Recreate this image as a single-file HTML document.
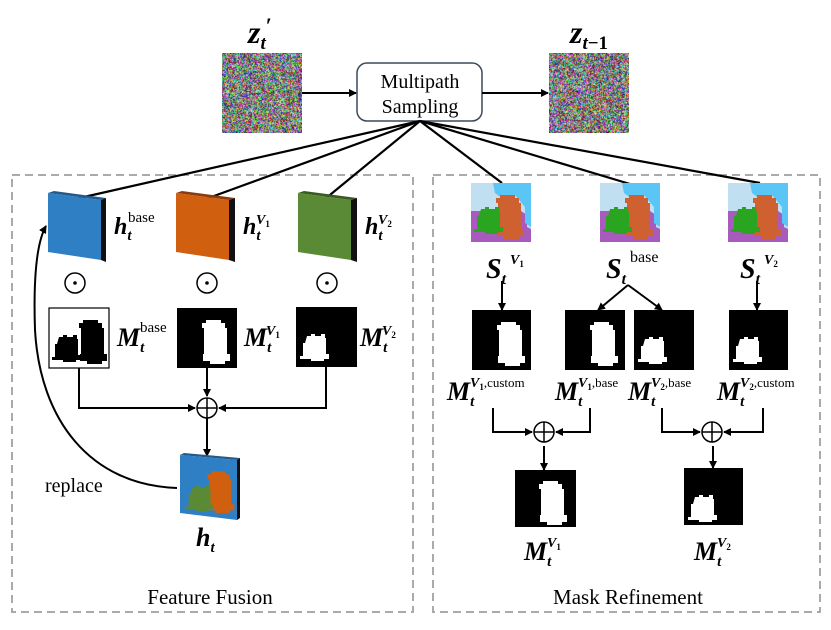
<!DOCTYPE html>
<html><head><meta charset="utf-8"><style>
html,body{margin:0;padding:0;background:#fff;}
svg{display:block;}
text{font-family:"Liberation Serif",serif;}
.m{font-weight:bold;font-style:italic;}
</style></head><body>
<svg width="831" height="630" viewBox="0 0 831 630" xmlns="http://www.w3.org/2000/svg">
<defs>
<marker id="a" markerWidth="8" markerHeight="8" refX="7" refY="4" orient="auto" markerUnits="userSpaceOnUse"><path d="M0,0 L8,4 L0,8 Z" fill="#000"/></marker>
<path id="big" d="M31,12 H46 V15 H50 V20 H52 V46 H55 V53 H50 V56 H35 V53 H28 V46 H29 V20 H27 V15 H31 Z"/>
<path id="small" d="M11,29 H15 V27 H19 V29 H25 V27 H29 V31 H30 V47 H33 V52 H28 V54 H15 V52 H4 V49 H7 V36 H9 Z"/>
<g id="plus"><circle r="10" fill="#fff" stroke="#000" stroke-width="1.5"/><path d="M-10,0 H10 M0,-10 V10" stroke="#000" stroke-width="1.5"/></g>
<g id="dot"><circle r="10" fill="#fff" stroke="#000" stroke-width="1.5"/><circle r="1.8" fill="#000"/></g>
<g id="seg">
<rect width="60" height="59" fill="#a95bbd"/>
<path d="M0,0 H60 V46 L56,44 V32 L50,28 L0,28 Z" fill="#c0dff0"/>
<path d="M22,0 H60 V44 L54,40 V24 L44,12 L32,16 L24,10 Z" fill="#5bc6f5"/>
<use href="#big" fill="#cf6030" transform="translate(-2,0)"/>
<use href="#small" fill="#2aa520" transform="translate(-1,-3)"/>
</g>
</defs>

<rect x="12" y="175" width="401" height="437" fill="none" stroke="#aaa" stroke-width="2" stroke-dasharray="8,5"/>
<rect x="433" y="175" width="387" height="437" fill="none" stroke="#aaa" stroke-width="2" stroke-dasharray="8,5"/>

<foreignObject x="222" y="53" width="80" height="80"><canvas id="n1" width="80" height="80" xmlns="http://www.w3.org/1999/xhtml"></canvas></foreignObject>
<foreignObject x="549" y="53" width="80" height="80"><canvas id="n2" width="80" height="80" xmlns="http://www.w3.org/1999/xhtml"></canvas></foreignObject>
<text x="248" y="43" class="m" font-size="32">z<tspan font-size="19" dy="6">t</tspan><tspan dy="-16" font-size="22" font-style="normal">′</tspan></text>
<text x="570" y="43" class="m" font-size="32">z<tspan font-size="19" dy="6">t</tspan><tspan font-size="19" font-style="normal">−1</tspan></text>
<rect x="357" y="63" width="125" height="58" rx="10" fill="#fff" stroke="#3b4a5a" stroke-width="1.5"/>
<text x="420" y="88" font-size="20" text-anchor="middle">Multipath</text>
<text x="420" y="113" font-size="20" text-anchor="middle">Sampling</text>
<line x1="302" y1="93" x2="356" y2="93" stroke="#000" stroke-width="2" marker-end="url(#a)"/>
<line x1="482" y1="93" x2="548" y2="93" stroke="#000" stroke-width="2" marker-end="url(#a)"/>

<g stroke="#000" stroke-width="2.2">
<line x1="420" y1="121" x2="75" y2="199"/>
<line x1="420" y1="121" x2="203" y2="200"/>
<line x1="420" y1="121" x2="325" y2="199"/>
<line x1="420" y1="121" x2="502" y2="183"/>
<line x1="420" y1="121" x2="630" y2="184"/>
<line x1="420" y1="121" x2="760" y2="183"/>
</g>

<g>
<path d="M48,193 L101,200 L106,198 L54,191 Z" fill="#235a8a"/>
<path d="M101,200 L106,198 L106,262 L101,260 Z" fill="#111"/>
<path d="M48,193 L101,200 L101,260 L48,252 Z" fill="#2f7fc4"/>
<path d="M176,193 L229,200 L235,198 L182,191 Z" fill="#8a3c10"/>
<path d="M229,200 L235,198 L235,262 L229,260 Z" fill="#111"/>
<path d="M176,193 L229,200 L229,260 L176,252 Z" fill="#d06010"/>
<path d="M298,193 L351,200 L357,198 L304,191 Z" fill="#3a5a20"/>
<path d="M351,200 L357,198 L357,262 L351,260 Z" fill="#111"/>
<path d="M298,193 L351,200 L351,260 L298,252 Z" fill="#5a8a35"/>
</g>
<text x="114" y="234" class="m" font-size="24">h<tspan font-size="15" dy="6">t</tspan></text><text x="128" y="222" font-size="15">base</text>
<text x="243" y="234" class="m" font-size="24">h<tspan font-size="15" dy="6">t</tspan></text><text x="256" y="224" class="m" font-size="14">V<tspan font-size="9" dy="3" font-style="normal">1</tspan></text>
<text x="365" y="234" class="m" font-size="24">h<tspan font-size="15" dy="6">t</tspan></text><text x="378" y="224" class="m" font-size="14">V<tspan font-size="9" dy="3" font-style="normal">2</tspan></text>

<use href="#dot" x="75" y="283"/><use href="#dot" x="207" y="283"/><use href="#dot" x="327" y="283"/>

<rect x="49" y="308" width="60" height="60" fill="#fff" stroke="#000" stroke-width="1.2"/>
<g fill="#000"><use href="#big" transform="translate(49,308) translate(3,0)"/><use href="#small" transform="translate(49,308) translate(-1,0)"/></g>
<rect x="177" y="308" width="60" height="60" fill="#000"/>
<use href="#big" transform="translate(177,308) translate(-2,0)" fill="#fff"/>
<rect x="296" y="307" width="61" height="60" fill="#000"/>
<use href="#small" transform="translate(296,307)" fill="#fff"/>
<text x="117" y="346" class="m" font-size="26">M<tspan font-size="15" dy="6">t</tspan></text><text x="140" y="332" font-size="15">base</text>
<text x="244" y="346" class="m" font-size="26">M<tspan font-size="15" dy="6">t</tspan></text><text x="266" y="335" class="m" font-size="14">V<tspan font-size="9" dy="3" font-style="normal">1</tspan></text>
<text x="360" y="346" class="m" font-size="26">M<tspan font-size="15" dy="6">t</tspan></text><text x="382" y="335" class="m" font-size="14">V<tspan font-size="9" dy="3" font-style="normal">2</tspan></text>

<g stroke="#000" stroke-width="2" fill="none">
<polyline points="79,368 79,408 195,408" marker-end="url(#a)"/>
<polyline points="326,367 326,408 219,408" marker-end="url(#a)"/>
<line x1="207" y1="368" x2="207" y2="396" marker-end="url(#a)"/>
<line x1="207" y1="418" x2="207" y2="456" marker-end="url(#a)"/>
<path d="M177,488 C90,485 40,420 35,330 C33,270 38,240 46,226" marker-end="url(#a)"/>
</g>
<use href="#plus" x="207" y="408"/>

<path d="M180,455 L237,460 L240,458 L184,453 Z" fill="#235a8a"/>
<path d="M237,460 L240,458 L240,518 L237,520 Z" fill="#111"/>
<path d="M180,455 L237,460 L237,520 L180,513 Z" fill="#2f7fc4"/>
<use href="#big" fill="#d06010" transform="translate(182,460) scale(0.95,0.95)"/>
<use href="#small" fill="#5a8a35" transform="translate(182,460) scale(0.95,0.95)"/>
<text x="45" y="492" font-size="20">replace</text>
<text x="196" y="546" class="m" font-size="26">h<tspan font-size="15" dy="6">t</tspan></text>
<text x="210" y="604" font-size="21" text-anchor="middle">Feature Fusion</text>

<use href="#seg" x="471" y="183"/><use href="#seg" x="600" y="183"/><use href="#seg" x="728" y="183"/>
<text x="486" y="278" class="m" font-size="28">S<tspan font-size="16" dy="6">t</tspan></text><text x="510" y="264" class="m" font-size="14">V<tspan font-size="9" dy="3" font-style="normal">1</tspan></text>
<text x="606" y="278" class="m" font-size="28">S<tspan font-size="16" dy="6">t</tspan></text><text x="630" y="262" font-size="16">base</text>
<text x="740" y="278" class="m" font-size="28">S<tspan font-size="16" dy="6">t</tspan></text><text x="764" y="264" class="m" font-size="14">V<tspan font-size="9" dy="3" font-style="normal">2</tspan></text>

<g stroke="#000" stroke-width="2" fill="none">
<line x1="502" y1="281" x2="502" y2="310" marker-end="url(#a)"/>
<line x1="628" y1="285" x2="598" y2="310" marker-end="url(#a)"/>
<line x1="628" y1="285" x2="662" y2="310" marker-end="url(#a)"/>
<line x1="757" y1="281" x2="757" y2="310" marker-end="url(#a)"/>
</g>
<rect x="472" y="310" width="59" height="60" fill="#000"/><use href="#big" transform="translate(472,310) translate(-2,0)" fill="#fff"/>
<rect x="565" y="310" width="60" height="60" fill="#000"/><use href="#big" transform="translate(565,310) translate(-2,0)" fill="#fff"/>
<rect x="634" y="310" width="60" height="60" fill="#000"/><use href="#small" transform="translate(634,310)" fill="#fff"/>
<rect x="729" y="310" width="59" height="60" fill="#000"/><use href="#small" transform="translate(729,310)" fill="#fff"/>
<text x="447" y="400" class="m" font-size="26">M<tspan font-size="15" dy="6">t</tspan></text><text x="470" y="387" class="m" font-size="14">V<tspan font-size="9" dy="3" font-style="normal">1</tspan><tspan dy="-3" font-style="normal" font-weight="normal" font-size="13">,custom</tspan></text>
<text x="555" y="400" class="m" font-size="26">M<tspan font-size="15" dy="6">t</tspan></text><text x="578" y="387" class="m" font-size="14">V<tspan font-size="9" dy="3" font-style="normal">1</tspan><tspan dy="-3" font-style="normal" font-weight="normal" font-size="13">,base</tspan></text>
<text x="628" y="400" class="m" font-size="26">M<tspan font-size="15" dy="6">t</tspan></text><text x="651" y="387" class="m" font-size="14">V<tspan font-size="9" dy="3" font-style="normal">2</tspan><tspan dy="-3" font-style="normal" font-weight="normal" font-size="13">,base</tspan></text>
<text x="717" y="400" class="m" font-size="26">M<tspan font-size="15" dy="6">t</tspan></text><text x="740" y="387" class="m" font-size="14">V<tspan font-size="9" dy="3" font-style="normal">2</tspan><tspan dy="-3" font-style="normal" font-weight="normal" font-size="13">,custom</tspan></text>
<g stroke="#000" stroke-width="2" fill="none">
<polyline points="493,408 493,432 532,432" marker-end="url(#a)"/>
<polyline points="590,408 590,432 556,432" marker-end="url(#a)"/>
<polyline points="662,408 662,432 700,432" marker-end="url(#a)"/>
<polyline points="763,408 763,432 724,432" marker-end="url(#a)"/>
<line x1="544" y1="446" x2="544" y2="470" marker-end="url(#a)"/>
<line x1="713" y1="446" x2="713" y2="468" marker-end="url(#a)"/>
</g>
<use href="#plus" x="544" y="432"/><use href="#plus" x="712" y="432"/>
<rect x="515" y="470" width="61" height="57" fill="#000"/><use href="#big" transform="translate(515,469) translate(-3,0)" fill="#fff"/>
<rect x="684" y="468" width="59" height="57" fill="#000"/><use href="#small" transform="translate(684,468)" fill="#fff"/>
<text x="524" y="560" class="m" font-size="26">M<tspan font-size="15" dy="6">t</tspan></text><text x="547" y="547" class="m" font-size="14">V<tspan font-size="9" dy="3" font-style="normal">1</tspan></text>
<text x="694" y="560" class="m" font-size="26">M<tspan font-size="15" dy="6">t</tspan></text><text x="717" y="547" class="m" font-size="14">V<tspan font-size="9" dy="3" font-style="normal">2</tspan></text>
<text x="628" y="604" font-size="21" text-anchor="middle">Mask Refinement</text>
</svg>
<script>
['n1','n2'].forEach(function(id){var c=document.getElementById(id);if(!c)return;var x=c.getContext('2d');var d=x.createImageData(80,80);for(var i=0;i<d.data.length;i+=4){d.data[i]=Math.random()*255;d.data[i+1]=Math.random()*255;d.data[i+2]=Math.random()*255;d.data[i+3]=255;}x.putImageData(d,0,0);});
</script>
</body></html>
